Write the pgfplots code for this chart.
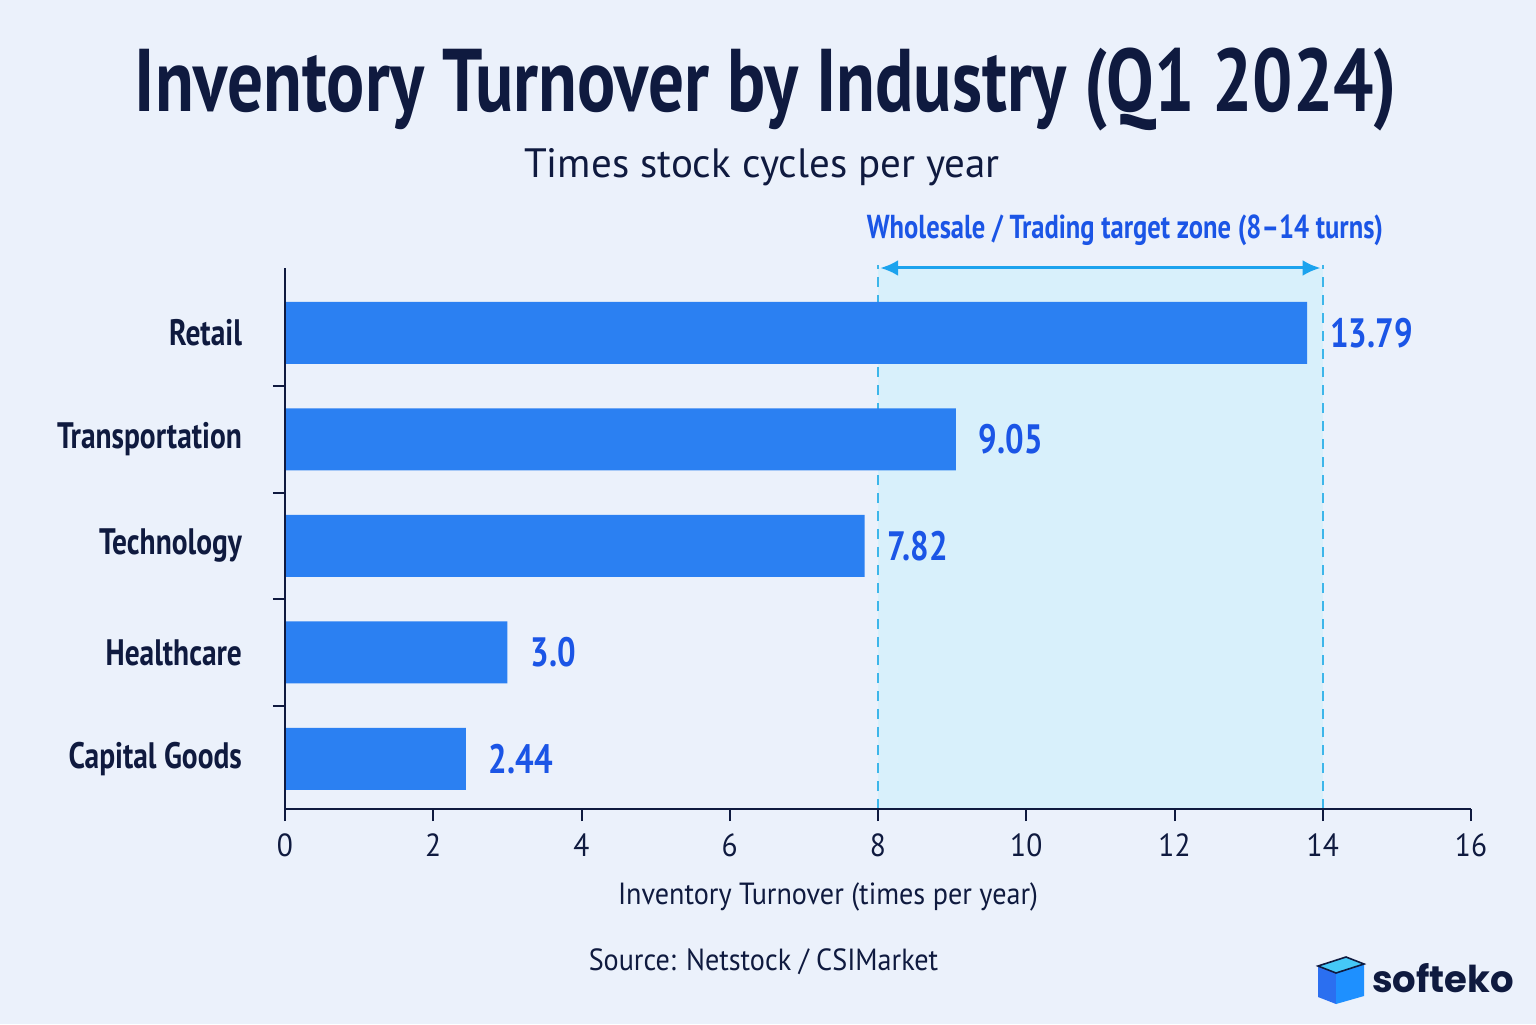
\documentclass[border=0pt]{standalone}
\usepackage{pgfplots}
\usepackage{pgfplotstable}
\pgfplotsset{compat=1.18}
\usetikzlibrary{arrows.meta}
\usepackage{fontspec}
\setmainfont{PT Sans}[FakeStretch=0.8]
\newfontfamily\regfont{PT Sans}[FakeStretch=0.92]
\newfontfamily\subfont{PT Sans}
\newfontfamily\logofont{Poppins}
\definecolor{bg}{HTML}{EBF1FB}
\definecolor{navy}{HTML}{0F1A3F}
\definecolor{barblue}{HTML}{2B80F2}
\definecolor{lblblue}{HTML}{1B55E6}
\definecolor{zone}{HTML}{D8F0FB}
\definecolor{zoneline}{HTML}{3DB6EA}
\definecolor{arrowc}{HTML}{1CA3EE}
\definecolor{logoA}{HTML}{2B6FF0}
\definecolor{logoB}{HTML}{1E90FF}
\definecolor{logoC}{HTML}{45C8F7}
\pgfplotstableread{
y x lbl
0 2.44 2.44
1 3.0 3.0
2 7.82 7.82
3 9.05 9.05
4 13.79 13.79
}\datatable
\begin{document}
\begin{tikzpicture}
\fill[bg] (0,0) rectangle (768pt,512pt);
\begin{axis}[
  at={(142.5pt,107.5pt)}, anchor=south west,
  scale only axis, width=593pt, height=270.5pt,
  xmin=0, xmax=16, ymin=-0.47, ymax=4.61,
  xbar, bar width=31pt, clip=false, axis on top,
  axis x line*=bottom, axis y line*=left,
  axis line style={navy, line width=1pt, -},
  xtick={0,2,...,16}, tick align=outside,
  major tick length=6pt, minor tick length=6pt,
  major x tick style={navy, line width=1pt},
  major y tick style={draw=none},
  minor y tick style={navy, line width=1pt},
  ytick={0,1,2,3,4},
  yticklabels={Capital Goods,Healthcare,Technology,Transportation,Retail},
  minor ytick={0.5,1.5,2.5,3.5},
  yticklabel style={font=\fontsize{18.4}{21}\selectfont\bfseries, color=navy, anchor=east, xshift=-12pt},
  xticklabel style={font=\regfont\fontsize{16}{19}\selectfont, color=navy, yshift=-3pt},
  /pgf/number format/assume math mode=true,
  xlabel={Inventory Turnover (times per year)},
  xlabel style={font=\regfont\fontsize{15.3}{18}\selectfont, color=navy, at={(axis description cs:0.5,0)}, anchor=center, yshift=-44pt, xshift=-25pt},
  nodes near coords style={font=\fontsize{20.5}{24}\selectfont\bfseries, color=lblblue, anchor=west, xshift=8pt},
]
\fill[zone] (axis cs:8,-0.47) rectangle (axis cs:14,4.61);
\draw[zoneline, line width=1pt, dashed, dash pattern=on 5pt off 4pt] (axis cs:8,-0.47) -- (axis cs:8,4.64);
\draw[zoneline, line width=1pt, dashed, dash pattern=on 5pt off 4pt] (axis cs:14,-0.47) -- (axis cs:14,4.64);
\draw[arrowc, line width=1.5pt, {Latex[length=9pt,width=8pt]}-{Latex[length=9pt,width=8pt]}] (axis cs:8.03,4.61) -- (axis cs:13.97,4.61);
\addplot[fill=barblue, draw=none, point meta=explicit symbolic, nodes near coords] table[x=x, y=y, meta=lbl] {\datatable};
\end{axis}
\node[font=\fontsize{44.5}{52}\selectfont\bfseries, color=navy] at (383pt,467pt) {Inventory Turnover by Industry (Q1 2024)};
\node[font=\subfont\fontsize{20.5}{24}\selectfont, color=navy] at (381pt,428.5pt) {Times stock cycles per year};
\node[font=\fontsize{16.6}{20}\selectfont\bfseries, color=lblblue] at (562.5pt,397pt) {Wholesale / Trading target zone (8–14 turns)};
\node[font=\regfont\fontsize{15.3}{18}\selectfont, color=navy] at (381.75pt,31pt) {Source: Netstock / CSIMarket};
% logo
\fill[logoA] (659pt,29pt) -- (668pt,25.5pt) -- (668pt,10pt) -- (659pt,13.5pt) -- cycle;
\fill[logoB] (668pt,25.5pt) -- (682pt,30pt) -- (682pt,14pt) -- (668pt,10pt) -- cycle;
\filldraw[fill=logoC, draw=navy, line width=0.8pt] (659pt,29pt) -- (673pt,33.5pt) -- (682pt,30pt) -- (668pt,25.5pt) -- cycle;
\node[font=\logofont\fontsize{18.5}{22}\selectfont\bfseries, color=navy] at (721.5pt,23pt) {softeko};
\end{tikzpicture}
\end{document}
